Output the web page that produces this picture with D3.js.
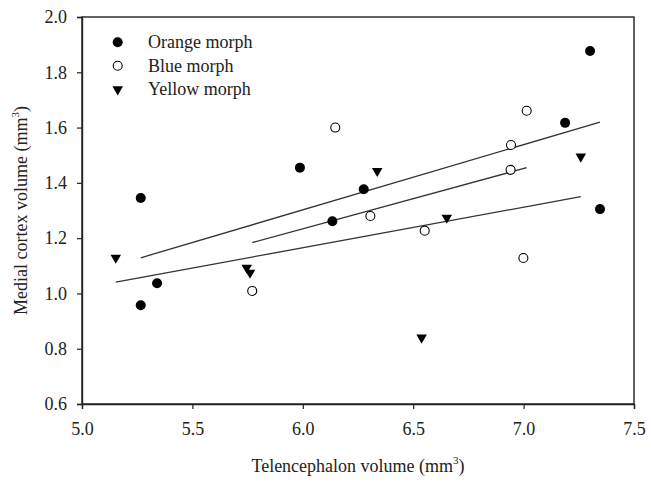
<!DOCTYPE html>
<html><head><meta charset="utf-8">
<script src="https://cdn.jsdelivr.net/npm/d3@7"></script>
<style>body{margin:0;background:#fff}svg{display:block}</style>
</head><body>
<script>
// Data
const orangeX = [5.266, 5.340, 5.266, 5.987, 6.276, 6.134, 7.301, 7.188, 7.346];
const orangeY = [0.957, 1.037, 1.345, 1.455, 1.377, 1.261, 1.877, 1.617, 1.305];
const blueX = [6.147, 6.306, 7.014, 6.943, 6.941, 6.552, 6.999, 5.771];
const blueY = [1.600, 1.280, 1.661, 1.537, 1.447, 1.227, 1.128, 1.009];
const yellowX = [5.153, 5.746, 5.761, 6.337, 6.652, 7.259, 6.538];
const yellowY = [1.129, 1.093, 1.075, 1.443, 1.274, 1.495, 0.840];
// regression line endpoints [x0, x1], [y0, y1]
const orangeFitX = [5.266, 7.346], orangeFitY = [1.129, 1.620];
const blueFitX = [5.771, 7.014], blueFitY = [1.184, 1.455];
const yellowFitX = [5.153, 7.259], yellowFitY = [1.041, 1.350];
const xTicks = [5.0, 5.5, 6.0, 6.5, 7.0, 7.5];
const yTicks = [0.6, 0.8, 1.0, 1.2, 1.4, 1.6, 1.8, 2.0];
const legendLabels = ["Orange morph", "Blue morph", "Yellow morph"];

const W = 651, H = 485;
const m = {left: 82, right: 17, top: 17, bottom: 81};
const svg = d3.select("body").append("svg").attr("width", W).attr("height", H)
  .style("font-family", "'Liberation Serif','Times New Roman',serif");

const x = d3.scaleLinear().domain([5.0, 7.5]).range([m.left, W - m.right]);
const y = d3.scaleLinear().domain([0.6, 2.0]).range([H - m.bottom, m.top]);

// frame
svg.append("rect").attr("x", x(5)).attr("y", y(2)).attr("width", x(7.5) - x(5)).attr("height", y(0.6) - y(2))
  .attr("fill", "none").attr("stroke", "#222").attr("stroke-width", 1.4);

const xAxis = svg.append("g").attr("transform", `translate(0,${y(0.6)})`)
  .call(d3.axisBottom(x).tickValues(xTicks).tickFormat(d3.format(".1f")).tickSize(5).tickPadding(13));
const yAxis = svg.append("g").attr("transform", `translate(${x(5)},0)`)
  .call(d3.axisLeft(y).tickValues(yTicks).tickFormat(d3.format(".1f")).tickSize(5).tickPadding(10));
[xAxis, yAxis].forEach(g => {
  g.select(".domain").attr("stroke", "#222").attr("stroke-width", 1.4);
  g.selectAll(".tick line").attr("stroke", "#222").attr("stroke-width", 1.2);
  g.selectAll(".tick text").attr("fill", "#222").style("font-size", "18px")
    .style("font-family", "'Liberation Serif','Times New Roman',serif");
});

// regression lines
const line = d3.line().x(d => x(d[0])).y(d => y(d[1]));
[[orangeFitX, orangeFitY], [blueFitX, blueFitY], [yellowFitX, yellowFitY]].forEach(([fx, fy]) => {
  svg.append("path").attr("d", line(fx.map((v, i) => [v, fy[i]])))
    .attr("fill", "none").attr("stroke", "#333").attr("stroke-width", 1.3);
});

const tri = d3.symbol().type(d3.symbolTriangle).size(48);
function drawMarker(g, kind, cx, cy) {
  if (kind === 0) g.append("circle").attr("cx", cx).attr("cy", cy).attr("r", 5).attr("fill", "#000");
  else if (kind === 1) g.append("circle").attr("cx", cx).attr("cy", cy).attr("r", 4.5).attr("fill", "#fff").attr("stroke", "#000").attr("stroke-width", 1.1);
  else g.append("path").attr("d", tri).attr("transform", `translate(${cx},${cy}) rotate(180)`).attr("fill", "#000");
}

const pts = svg.append("g");
orangeX.forEach((v, i) => drawMarker(pts, 0, x(v), y(orangeY[i])));
blueX.forEach((v, i) => drawMarker(pts, 1, x(v), y(blueY[i])));
yellowX.forEach((v, i) => drawMarker(pts, 2, x(v), y(yellowY[i])));

// legend
const lg = svg.append("g");
const legY = [42.3, 65.7, 89.3];
legendLabels.forEach((t, i) => {
  drawMarker(lg, i, 117.7, legY[i]);
  lg.append("text").attr("x", 148).attr("y", legY[i] + 6).attr("fill", "#222")
    .style("font-size", "18px").text(t);
});

// axis titles
const xt = svg.append("text").attr("x", (x(5) + x(7.5)) / 2).attr("y", 472).attr("text-anchor", "middle")
  .attr("fill", "#222").style("font-size", "18px");
xt.append("tspan").text("Telencephalon volume (mm");
xt.append("tspan").attr("dy", -8).style("font-size", "11px").text("3");
xt.append("tspan").attr("dy", 8).text(")");

const yt = svg.append("text").attr("transform", `translate(27,${(y(0.6) + y(2)) / 2}) rotate(-90)`)
  .attr("text-anchor", "middle").attr("fill", "#222").style("font-size", "18px");
yt.append("tspan").text("Medial cortex volume (mm");
yt.append("tspan").attr("dy", -8).style("font-size", "11px").text("3");
yt.append("tspan").attr("dy", 8).text(")");
</script>
</body></html>
